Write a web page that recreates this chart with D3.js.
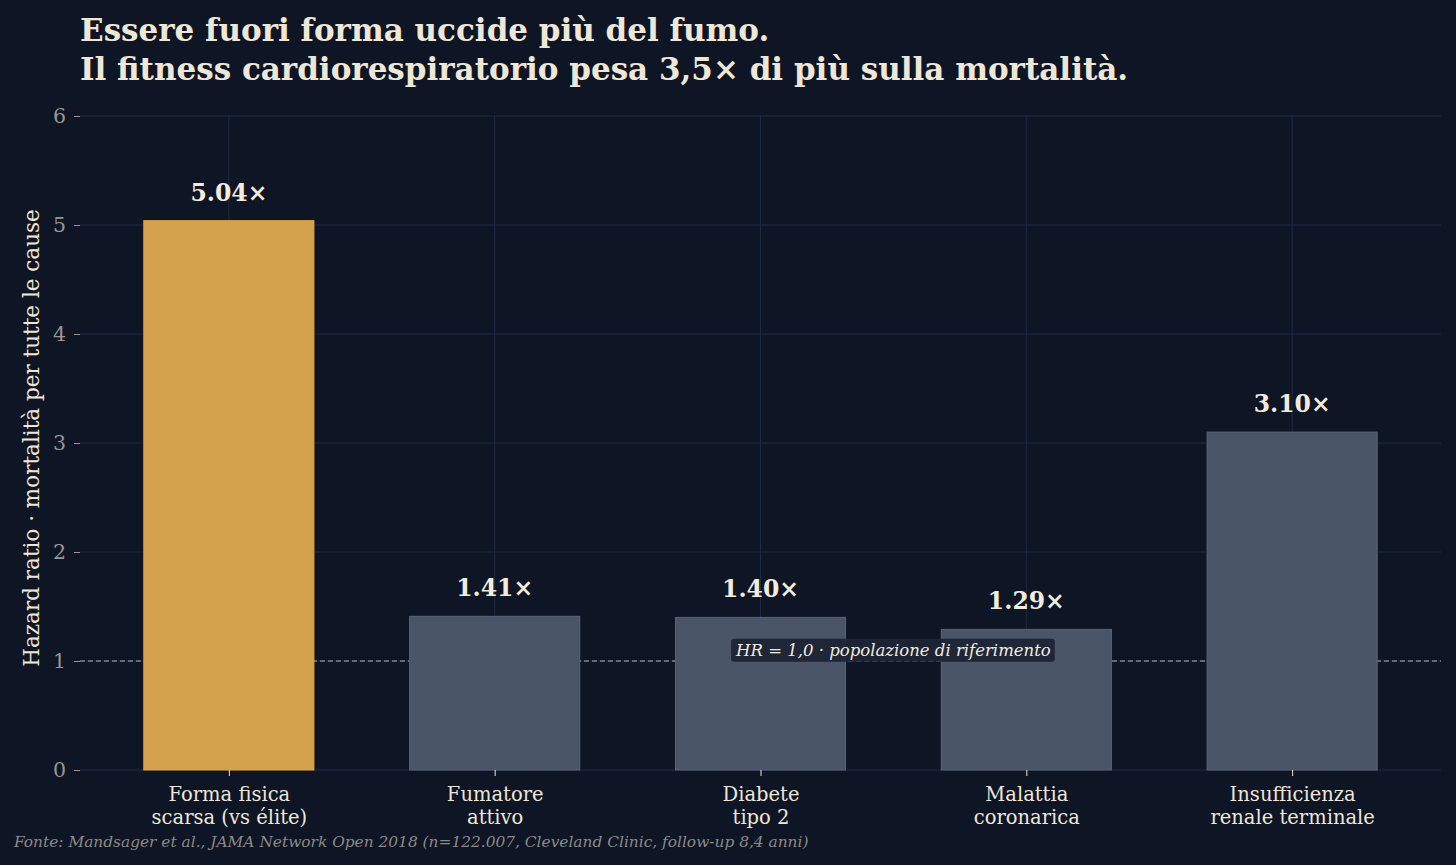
<!DOCTYPE html>
<html>
<head>
<meta charset="utf-8">
<script src="https://cdn.jsdelivr.net/npm/d3@7"></script>
<style>
  html, body { margin: 0; padding: 0; background: #0e1525; }
  svg text { font-family: "DejaVu Serif", serif; }
</style>
</head>
<body>
<div id="chart"></div>
<script>
// data
const categories = [
  ["Forma fisica", "scarsa (vs élite)"],
  ["Fumatore", "attivo"],
  ["Diabete", "tipo 2"],
  ["Malattia", "coronarica"],
  ["Insufficienza", "renale terminale"]
]
const hazardRatios = [5.04, 1.41, 1.40, 1.29, 3.10]
const highlight = [true, false, false, false, false]
const yTicks = [0, 1, 2, 3, 4, 5, 6]
const titleLines = [
  "Essere fuori forma uccide più del fumo.",
  "Il fitness cardiorespiratorio pesa 3,5× di più sulla mortalità."
]
const yLabel = "Hazard ratio · mortalità per tutte le cause"
const refValue = 1
const refLabel = "HR = 1,0 · popolazione di riferimento"
const source = "Fonte: Mandsager et al., JAMA Network Open 2018 (n=122.007, Cleveland Clinic, follow-up 8,4 anni)"

// dimensions
const W = 1456, H = 865
const margin = { top: 116, right: 15, bottom: 95, left: 80 }
const width = W - margin.left - margin.right
const height = H - margin.top - margin.bottom

const svg = d3.select("#chart").append("svg")
  .attr("width", W)
  .attr("height", H)

svg.append("rect").attr("width", W).attr("height", H).attr("fill", "#0e1525")

// scales
const idx = d3.range(categories.length)
const x = d3.scaleLinear().domain([-0.56, 4.56]).range([0, width])
const y = d3.scaleLinear().domain([0, 6]).range([height, 0])
const barW = 0.64

// title
svg.append("g").selectAll("text")
  .data(titleLines)
  .enter().append("text")
  .attr("x", 80)
  .attr("y", (d, i) => 41 + i * 39)
  .attr("fill", "#efe7d6")
  .attr("font-size", 31)
  .attr("font-weight", "bold")
  .text(d => d)

const g = svg.append("g")
  .attr("transform", "translate(" + margin.left + "," + margin.top + ")")

// grid
g.append("g").selectAll("line")
  .data(yTicks)
  .enter().append("line")
  .attr("x1", 0).attr("x2", width)
  .attr("y1", d => y(d)).attr("y2", d => y(d))
  .attr("stroke", "#1f2b44").attr("stroke-width", 1)

g.append("g").selectAll("line")
  .data(idx)
  .enter().append("line")
  .attr("x1", d => x(d)).attr("x2", d => x(d))
  .attr("y1", 0).attr("y2", height)
  .attr("stroke", "#1f2b44").attr("stroke-width", 1)

// reference line
g.append("line")
  .attr("x1", 0).attr("x2", width)
  .attr("y1", y(refValue)).attr("y2", y(refValue))
  .attr("stroke", "#7b808a")
  .attr("stroke-width", 1.3)
  .attr("stroke-dasharray", "5,3")

// bars
g.append("g").selectAll("rect")
  .data(idx)
  .enter().append("rect")
  .attr("x", d => x(d - barW / 2))
  .attr("width", x(barW) - x(0))
  .attr("y", d => y(hazardRatios[d]))
  .attr("height", d => y(0) - y(hazardRatios[d]))
  .attr("fill", d => highlight[d] ? "#d4a24c" : "#4a5568")
  .attr("stroke", d => highlight[d] ? "#e3a53e" : "#5a6479")
  .attr("stroke-width", 1)

// value labels
g.append("g").selectAll("text")
  .data(idx)
  .enter().append("text")
  .attr("x", d => x(d))
  .attr("y", d => y(hazardRatios[d]) - 20)
  .attr("text-anchor", "middle")
  .attr("fill", "#f3ecdc")
  .attr("font-size", 23.5)
  .attr("font-weight", "bold")
  .text(d => hazardRatios[d].toFixed(2) + "×")

// reference annotation
const ann = g.append("g")
  .attr("transform", "translate(" + x(2.5) + "," + (y(refValue) - 11) + ")")
const annText = ann.append("text")
  .attr("x", 0).attr("y", 0)
  .attr("dy", "0.35em")
  .attr("text-anchor", "middle")
  .attr("fill", "#f3ecdc")
  .attr("font-size", 16.5)
  .attr("font-style", "italic")
  .text(refLabel)
const bb = annText.node().getBBox()
ann.insert("rect", "text")
  .attr("x", bb.x - 4).attr("y", bb.y - 2)
  .attr("width", bb.width + 8).attr("height", bb.height + 4)
  .attr("rx", 3)
  .attr("fill", "#1c2436")
  .attr("opacity", 0.95)

// y axis
const yAxis = g.append("g")
  .call(d3.axisLeft(y).tickValues(yTicks).tickFormat(d3.format("d")).tickSize(6).tickPadding(8))
yAxis.select(".domain").remove()
yAxis.selectAll(".tick line").attr("stroke", "#9a978f")
yAxis.selectAll(".tick text")
  .attr("fill", "#9a978f")
  .attr("font-size", 20.5)
  .attr("font-family", "DejaVu Serif")

// x axis
const xAxis = g.append("g")
  .attr("transform", "translate(0," + height + ")")
  .call(d3.axisBottom(x).tickValues(idx).tickSize(6).tickFormat(""))
xAxis.select(".domain").remove()
xAxis.selectAll(".tick line").attr("stroke", "#efe7d6")
xAxis.selectAll(".tick text").remove()
xAxis.selectAll(".tick").each(function (d) {
  const t = d3.select(this).append("text")
    .attr("fill", "#efe7d6")
    .attr("font-size", 19.5)
    .attr("font-family", "DejaVu Serif")
    .attr("text-anchor", "middle")
  categories[d].forEach((line, i) => {
    t.append("tspan").attr("x", 0).attr("y", 31 + i * 23).text(line)
  })
})

// y label
svg.append("text")
  .attr("transform", "translate(39," + (margin.top + height / 2 - 5) + ") rotate(-90)")
  .attr("text-anchor", "middle")
  .attr("fill", "#efe7d6")
  .attr("font-size", 21.5)
  .text(yLabel)

// source
svg.append("text")
  .attr("x", 14)
  .attr("y", 847)
  .attr("fill", "#8c8a85")
  .attr("font-size", 15.4)
  .attr("font-style", "italic")
  .text(source)
</script>
</body>
</html>
